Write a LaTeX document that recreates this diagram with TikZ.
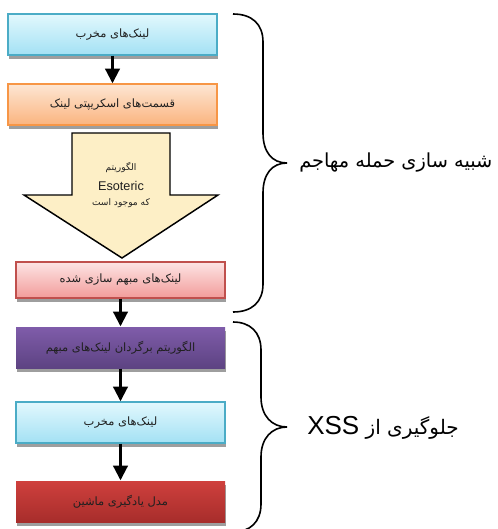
\documentclass[tikz,border=0pt]{standalone}
\usepackage{fontspec}
\usetikzlibrary{shadows,arrows.meta}
\TeXXeTstate=1
\newfontfamily\fa[Script=Arabic]{DejaVu Sans}
\newfontfamily\lat{Liberation Sans}
\definecolor{cyanT}{HTML}{E2F8FD}
\definecolor{cyanB}{HTML}{A3E1F4}
\definecolor{cyanD}{HTML}{4BACC6}
\definecolor{oraT}{HTML}{FDE6D3}
\definecolor{oraB}{HTML}{FBB47F}
\definecolor{oraD}{HTML}{F79646}
\definecolor{redT}{HTML}{FDE4E4}
\definecolor{redB}{HTML}{F29C9A}
\definecolor{redD}{HTML}{C0504D}
\definecolor{purT}{HTML}{7F5CAA}
\definecolor{purB}{HTML}{5D4382}
\definecolor{dredT}{HTML}{CF403D}
\definecolor{dredB}{HTML}{A72D2B}
\definecolor{yel}{HTML}{FDEFC6}
\definecolor{txt}{HTML}{202020}
\tikzset{
  boxbase/.style={rectangle, minimum width=209*0.75pt, minimum height=41*0.75pt,
    inner sep=0pt, line width=1.1pt, text=txt, font=\fa\fontsize{8.6}{10}\selectfont,
    drop shadow={shadow xshift=0.6pt, shadow yshift=-3pt, fill=black!38, opacity=1}},
  cyanbox/.style={boxbase, draw=cyanD, top color=cyanT, bottom color=cyanB},
  orabox/.style={boxbase, draw=oraD, top color=oraT, bottom color=oraB},
  redbox/.style={boxbase, draw=redD, top color=redT, bottom color=redB, minimum height=36*0.75pt},
  purbox/.style={boxbase, draw=none, top color=purT, bottom color=purB},
  dredbox/.style={boxbase, draw=none, top color=dredT, bottom color=dredB},
  conn/.style={line width=1.6pt, -{Triangle[length=11pt,width=11pt]}},
  bracestyle/.style={line width=1.2pt},
  bigtext/.style={font=\fontsize{14.5}{17}\selectfont, text=black, inner sep=0pt}
}
\begin{document}
\begin{tikzpicture}[x=0.75pt,y=-0.75pt]
\useasboundingbox (0,0) rectangle (497,529);
% boxes
\node[cyanbox] (b1) at (112.5,34.5) {\beginR لینک‌های مخرب\endR};
\node[orabox] (b2) at (112.5,104.5) {\beginR قسمت‌های اسکریپتی لینک\endR};
% block arrow
\draw[line width=1.1pt, fill=yel] (72,133) -- (170,133) -- (170,195) -- (218,195) -- (122,258) -- (24,195) -- (72,195) -- cycle;
\node[text=txt, font=\fa\fontsize{6.8}{8}\selectfont] (a1) at (121,168) {\beginR الگوریتم\endR};
\node[text=txt, font=\lat\fontsize{9.5}{11}\selectfont] (a2) at (121,185.5) {Esoteric};
\node[text=txt, font=\fa\fontsize{6.8}{8}\selectfont] (a3) at (121,203) {\beginR که موجود است\endR};
\node[redbox] (b4) at (120.5,280) {\beginR لینک‌های مبهم سازی شده\endR};
\node[purbox] (b5) at (120.5,347.5) {\beginR الگوریتم برگردان لینک‌های مبهم\endR};
\node[cyanbox] (b6) at (120.5,422.5) {\beginR لینک‌های مخرب\endR};
\node[dredbox] (b7) at (120.5,501.5) {\beginR مدل یادگیری ماشین\endR};
% connectors
\draw[conn] (b1.south) -- (b2.north);
\draw[conn] (b4.south) -- (b5.north);
\draw[conn] (b5.south) -- (b6.north);
\draw[conn] (b6.south) -- (b7.north);
% braces
\draw[bracestyle] (233,14) .. controls (252,14) and (263,24) .. (263,42)
  -- (263,133) .. controls (263,152) and (272,163) .. (287,163)
  .. controls (272,163) and (263,174) .. (263,193)
  -- (263,284) .. controls (263,302) and (252,312) .. (233,312);
\draw[bracestyle] (233,322) .. controls (250,322) and (261,332) .. (261,350)
  -- (261,397) .. controls (261,416) and (272,427) .. (287,427)
  .. controls (272,427) and (261,438) .. (261,457)
  -- (261,504) .. controls (261,522) and (250,532) .. (233,532);
\node[bigtext, anchor=west] (t1) at (299,163) {\fa\beginR شبیه سازی حمله مهاجم\endR};
\node[bigtext, anchor=west] (t2) at (307,428) {\fa\fontsize{15}{17}\selectfont\beginR جلوگیری از \beginL{\lat\fontsize{19.5}{22}\selectfont XSS}\endL\endR};
\end{tikzpicture}
\end{document}
